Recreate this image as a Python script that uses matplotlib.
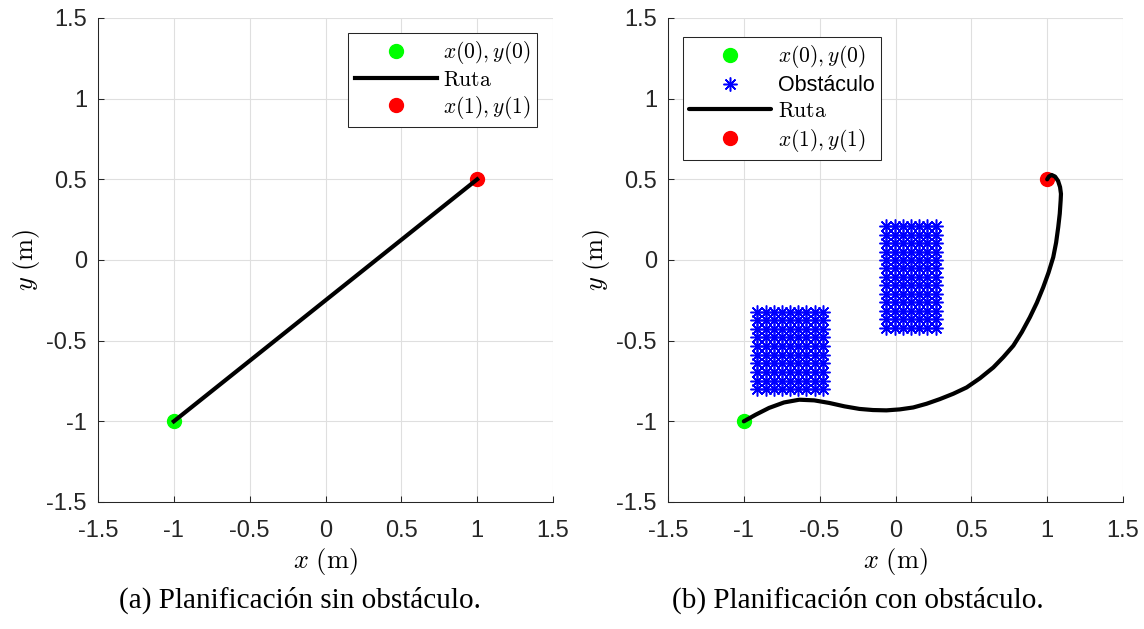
import numpy as np
import matplotlib
matplotlib.use('Agg')
import matplotlib.pyplot as plt

plt.rcParams['mathtext.fontset'] = 'cm'
plt.rcParams['font.family'] = ['Liberation Sans', 'DejaVu Sans']

# ---------------------- Data ---------------------- #

start_pt = (-1.0, -1.0)
end_pt = (1.0, 0.5)

# (a) straight route
route_a_x = [-1.0, 1.0]
route_a_y = [-1.0, 0.5]

# (b) route around obstacles
route_b_x = [-1.0, -0.922, -0.834, -0.735, -0.635, -0.536, -0.437, -0.337, -0.238, -0.149,
             -0.060, 0.028, 0.117, 0.205, 0.293, 0.381, 0.469, 0.557, 0.645, 0.711,
             0.777, 0.833, 0.886, 0.932, 0.974, 1.009, 1.040, 1.059, 1.073, 1.083,
             1.089, 1.091, 1.085, 1.072, 1.052, 1.030, 1.012, 1.000]
route_b_y = [-1.0, -0.959, -0.917, -0.883, -0.866, -0.870, -0.886, -0.907, -0.923, -0.930,
             -0.932, -0.926, -0.914, -0.891, -0.862, -0.829, -0.790, -0.733, -0.666, -0.602,
             -0.531, -0.447, -0.355, -0.265, -0.169, -0.078, 0.017, 0.108, 0.204, 0.287,
             0.370, 0.410, 0.452, 0.490, 0.517, 0.527, 0.518, 0.500]

# obstacle sample grids
obs1_x = [-0.91, -0.856, -0.802, -0.748, -0.694, -0.641, -0.587, -0.533, -0.48]
obs1_y = [-0.80, -0.747, -0.693, -0.64, -0.587, -0.533, -0.48, -0.427, -0.373, -0.32]
obs2_x = [-0.06, -0.006, 0.048, 0.102, 0.156, 0.21, 0.265]
obs2_y = [-0.42, -0.367, -0.315, -0.262, -0.21, -0.157, -0.105, -0.052, 0.0,
          0.052, 0.105, 0.157, 0.21]

ticks = [-1.5, -1, -0.5, 0, 0.5, 1, 1.5]
tick_labels = ['-1.5', '-1', '-0.5', '0', '0.5', '1', '1.5']

# ---------------------- Figure ---------------------- #

fig = plt.figure(figsize=(11.44, 6.29), dpi=100)
W, H = 1144, 629
ax1 = fig.add_axes([98 / W, 127 / H, 455 / W, 484 / H])
ax2 = fig.add_axes([668 / W, 127 / H, 455 / W, 484 / H])

def style_axes(ax):
    ax.set_xlim(-1.5, 1.5)
    ax.set_ylim(-1.5, 1.5)
    ax.set_xticks(ticks)
    ax.set_xticklabels(tick_labels)
    ax.set_yticks(ticks)
    ax.set_yticklabels(tick_labels)
    ax.tick_params(direction='in', length=4, width=0.75, colors='#262626',
                   labelsize=17)
    ax.tick_params(axis='x', pad=13)
    ax.tick_params(axis='y', pad=8)
    ax.spines['top'].set_visible(False)
    ax.spines['right'].set_visible(False)
    for s in ['left', 'bottom']:
        ax.spines[s].set_color('#262626')
        ax.spines[s].set_linewidth(0.75)
    ax.grid(True, color='#dfdfdf', linewidth=0.8)
    ax.set_axisbelow(True)
    ax.set_xlabel(r'$x\ (\mathrm{m})$', fontsize=19, labelpad=3)
    ax.set_ylabel(r'$y\ (\mathrm{m})$', fontsize=19, labelpad=3)

style_axes(ax1)
style_axes(ax2)

leg_kw = dict(borderaxespad=0, fontsize=15.5, handlelength=3.8, handletextpad=0.3,
              borderpad=0.3, numpoints=1, fancybox=False, framealpha=1,
              edgecolor='#262626')

# (a)
ax1.plot(start_pt[0], start_pt[1], 'o', color=(0, 1, 0), ms=10, label=r'$x(0),y(0)$', zorder=3)
ax1.plot(route_a_x, route_a_y, '-', color='k', lw=3, label=r'$\mathrm{Ruta}$', zorder=4)
ax1.plot(end_pt[0], end_pt[1], 'o', color=(1, 0, 0), ms=10, label=r'$x(1),y(1)$', zorder=3)

leg1 = ax1.legend(loc='upper right', bbox_to_anchor=((537 - 98) / 455, (502 - 33) / 484),
                  labelspacing=0.15, **leg_kw)
leg1.get_frame().set_linewidth(0.75)

# (b)
gx1, gy1 = np.meshgrid(obs1_x, obs1_y)
gx2, gy2 = np.meshgrid(obs2_x, obs2_y)
obs_x = np.concatenate([gx1.ravel(), gx2.ravel()])
obs_y = np.concatenate([gy1.ravel(), gy2.ravel()])

h_start = ax2.plot(start_pt[0], start_pt[1], 'o', color=(0, 1, 0), ms=10, zorder=3)[0]
h_obs = ax2.plot(obs_x, obs_y, linestyle='none', marker=(8, 2, 0), color=(0, 0, 1),
                 ms=10, mew=1.1, zorder=2)[0]
h_route = ax2.plot(route_b_x, route_b_y, '-', color='k', lw=3, zorder=4,
                   solid_joinstyle='round', solid_capstyle='round')[0]
h_end = ax2.plot(end_pt[0], end_pt[1], 'o', color=(1, 0, 0), ms=10, zorder=3)[0]

leg2 = ax2.legend([h_start, h_obs, h_route, h_end],
                  [r'$x(0),y(0)$', 'Obstáculo', r'$\mathrm{Ruta}$', r'$x(1),y(1)$'],
                  loc='upper left', bbox_to_anchor=((683 - 668) / 455, (502 - 37) / 484),
                  labelspacing=0.22, **leg_kw)
leg2.get_frame().set_linewidth(0.75)

# captions
fig.text(300 / W, 1 - 600 / H, '(a) Planificación sin obstáculo.', ha='center', va='center',
         fontsize=21, family='Liberation Serif')
fig.text(858 / W, 1 - 600 / H, '(b) Planificación con obstáculo.', ha='center', va='center',
         fontsize=21, family='Liberation Serif')

fig.savefig('out.png', dpi=100)
